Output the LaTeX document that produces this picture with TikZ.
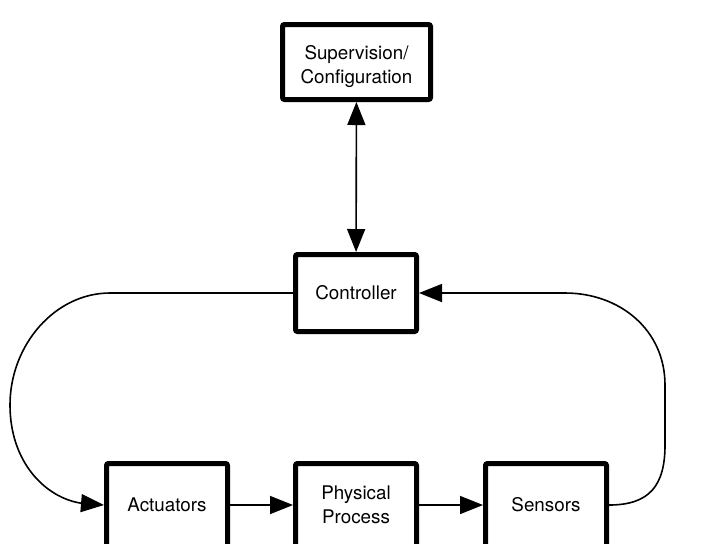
\documentclass[tikz,border=0pt]{standalone}
\usepackage{fontspec}
\setmainfont{TeX Gyre Heros}
\usetikzlibrary{arrows.meta, shadows}

\begin{document}
\begin{tikzpicture}[x=0.5pt, y=-0.5pt,
    >={Triangle[length=11.5pt, width=9pt]},
    box/.style={draw, line width=2.5pt, rounded corners=1pt, fill=white,
        minimum width=60.5pt, minimum height=38.5pt, align=center,
        font=\fontsize{9.4}{12}\selectfont,
        drop shadow={shadow xshift=0.7pt, shadow yshift=-0.7pt, opacity=0.25}},
    link/.style={line width=0.8pt, ->}]
    % 画布
    \fill[white] (0,0) rectangle (701,543);
    \useasboundingbox (0,0) rectangle (701,543);

    % 方框
    \node[box, minimum width=74pt, minimum height=37.5pt] (sup) at (356.5,62) {\rule{0pt}{12pt}Supervision/\\Configuration};
    \node[box] (ctrl) at (356,293) {Controller};
    \node[box, minimum height=41.5pt] (act) at (167,505) {Actuators};
    \node[box, minimum height=41.5pt] (proc) at (356,505) {Physical\\Process};
    \node[box, minimum height=41.5pt] (sens) at (546,505) {Sensors};

    % 上下双向箭头
    \draw[link, <->] (sup) -- (ctrl);

    % 底部一排
    \draw[link] (act) -- (proc);
    \draw[link] (proc) -- (sens);

    % 左侧回路：控制器 -> 执行器
    \draw[link] (ctrl.west) -- (110,293) .. controls (55,293) and (10,345) .. (10,405)
        .. controls (10,462) and (45,497) .. (80,503) -- (act.west);

    % 右侧回路：传感器 -> 控制器
    \draw[link] (sens.east) .. controls (650,505) and (665,485) .. (665,445) -- (665,385)
        .. controls (665,330) and (620,293) .. (565,293) -- (ctrl.east);
\end{tikzpicture}
\end{document}
